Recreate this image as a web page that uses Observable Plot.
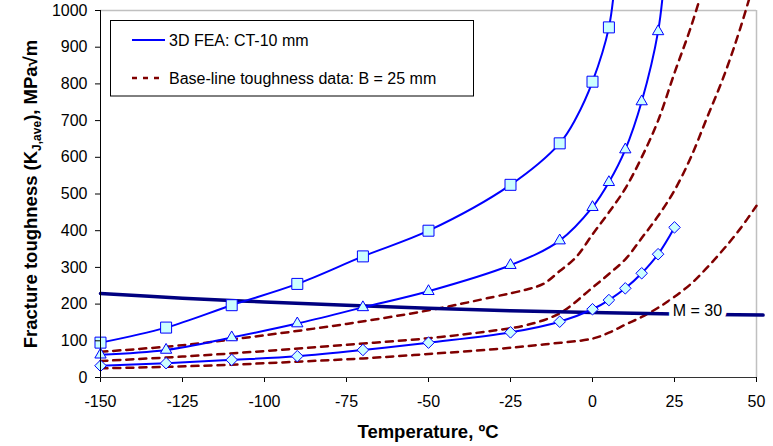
<!DOCTYPE html>
<html>
<head>
<meta charset="utf-8">
<script src="https://cdn.jsdelivr.net/npm/d3@7"></script>
<script src="https://cdn.jsdelivr.net/npm/@observablehq/plot@0.6"></script>
<style>
  body { margin: 0; background: #fff; }
  #chart svg { display: block; overflow: hidden; }
</style>
</head>
<body>
<div id="chart"></div>
<script>
// ---------- tick labels ----------
const xTicks = [-150, -125, -100, -75, -50, -25, 0, 25, 50];
const yTicks = [0, 100, 200, 300, 400, 500, 600, 700, 800, 900, 1000];

// ---------- 3D FEA: CT-10 mm (three curves, with markers) ----------
// square-marker curve (1 = marker drawn, 0 = line-only point)
const squareTemp   = [-150, -130, -110, -90, -70, -50, -25, -10, -5, 0, 5, 7];
const squareK      = [95, 136, 197, 255, 330, 400, 525, 638, 707, 806, 954, 1100];
const squareMarked = [1, 1, 1, 1, 1, 1, 1, 1, 0, 1, 1, 0];

// triangle-marker curve
const triangleTemp   = [-150, -130, -110, -90, -70, -50, -25, -10, 0, 5, 10, 15, 20, 22];
const triangleK      = [62, 75, 109, 147, 191, 235, 306, 373, 464, 532, 621, 752, 943, 1100];
const triangleMarked = [1, 1, 1, 1, 1, 1, 1, 1, 1, 1, 1, 1, 1, 0];

// diamond-marker curve
const diamondTemp   = [-150, -130, -110, -90, -70, -50, -25, -10, 0, 5, 10, 15, 20, 25];
const diamondK      = [32, 39, 48, 58, 75, 95, 123, 152, 186, 211, 243, 284, 336, 409];
const diamondMarked = [1, 1, 1, 1, 1, 1, 1, 1, 1, 1, 1, 1, 1, 1];

// ---------- Base-line toughness data: B = 25 mm (three dashed curves) ----------
const baseATemp = [-150, -125, -100, -75, -50, -30, -20, -15, -10, -5, 0, 5, 10, 15, 20, 25, 30, 35];
const baseAK    = [70, 88, 115, 146, 183, 220, 240, 255, 290, 328, 390, 450, 515, 600, 700, 830, 955, 1100];

const baseBTemp = [-150, -125, -100, -75, -50, -30, -20, -10, 0, 5, 10, 15, 20, 25, 30, 35, 40, 45, 50];
const baseBK    = [45, 57, 72, 89, 107, 128, 143, 175, 245, 282, 322, 380, 440, 510, 600, 710, 820, 950, 1100];

const baseCTemp = [-150, -130, -110, -90, -70, -50, -30, -15, 0, 5, 10, 15, 20, 25, 30, 35, 40, 45, 50];
const baseCK    = [25, 29, 35, 43, 52, 64, 77, 90, 106, 122, 144, 165, 190, 220, 255, 300, 350, 405, 468];

// ---------- M = 30 line ----------
const mTemp = [-150, -125, -100, -75, -50, -25, 0, 25, 52];
const mK    = [229, 216, 206, 197, 189, 182, 177, 173, 170];
const mLabelText = "M = 30";
const mLabelTemp = 32;
const mLabelK = 181;

// ---------- legend ----------
const legendLabels = ["3D FEA: CT-10 mm", "Base-line toughness data: B = 25 mm"];

// ---------- build tables ----------
const rows = (name, T, K, marked) =>
  T.map((t, i) => ({ series: name, T: t, K: K[i], marked: marked ? marked[i] : 1 }));

const feaRows = [
  ...rows("square", squareTemp, squareK, squareMarked),
  ...rows("triangle", triangleTemp, triangleK, triangleMarked),
  ...rows("diamond", diamondTemp, diamondK, diamondMarked)
];
const baseRows = [
  ...rows("A", baseATemp, baseAK),
  ...rows("B", baseBTemp, baseBK),
  ...rows("C", baseCTemp, baseCK)
];
const mRows = rows("M", mTemp, mK);

const markers = (s) => feaRows.filter(d => d.series === s && d.marked);

const BLUE = "#0000ff", MAROON = "#800000", NAVY = "#000080", FILL = "#ccffff";

const plot = Plot.plot({
  width: 773,
  height: 446,
  marginLeft: 100,
  marginRight: 17,
  marginTop: 10,
  marginBottom: 69,
  x: { domain: [-150, 50] },
  y: { domain: [0, 1000] },
  style: {
    fontFamily: "'Liberation Sans', Arial, sans-serif",
    fontSize: "16px",
    background: "white",
    color: "black",
    overflow: "hidden"
  },
  marks: [
    Plot.ruleY([1000], { stroke: "#c0c0c0", strokeWidth: 1.5 }),
    Plot.ruleX([50], { stroke: "#c0c0c0", strokeWidth: 1.5 }),
    Plot.line(baseRows, {
      x: "T", y: "K", z: "series", stroke: MAROON, strokeWidth: 2.5,
      strokeDasharray: "7,6", curve: "catmull-rom"
    }),
    Plot.line(mRows, { x: "T", y: "K", stroke: NAVY, strokeWidth: 3.5, curve: "catmull-rom" }),
    Plot.line(feaRows, { x: "T", y: "K", z: "series", stroke: BLUE, strokeWidth: 2, curve: "catmull-rom" }),
    Plot.dot(markers("square"), { x: "T", y: "K", symbol: "square", r: 6.2, fill: FILL, stroke: BLUE, strokeWidth: 1 }),
    Plot.dot(markers("triangle"), { x: "T", y: "K", symbol: "triangle", r: 4.2, fill: FILL, stroke: BLUE, strokeWidth: 1 }),
    Plot.dot(markers("diamond"), { x: "T", y: "K", symbol: "diamond2", r: 5.2, fill: FILL, stroke: BLUE, strokeWidth: 1 }),
    Plot.text([{ T: mLabelTemp, K: mLabelK, t: mLabelText }], {
      x: "T", y: "K", text: "t", fill: "black", stroke: "white", strokeWidth: 10,
      paintOrder: "stroke", fontSize: 16
    }),
    Plot.axisX({
      ticks: xTicks, tickSize: 5, tickPadding: 13, label: null, fontSize: 16,
      tickFormat: d => String(d)
    }),
    Plot.axisY({
      ticks: yTicks, tickSize: 5, tickPadding: 8, label: null, fontSize: 16,
      tickFormat: d => String(d)
    }),
    Plot.ruleY([0], { stroke: "#333" }),
    Plot.ruleX([-150], { stroke: "#000" })
  ]
});

document.getElementById("chart").appendChild(plot);

// ---------- axis titles (with subscript) ----------
const svg = d3.select(plot);
const font = "'Liberation Sans', Arial, sans-serif";

svg.append("text")
  .attr("x", 428).attr("y", 437.5)
  .attr("text-anchor", "middle")
  .attr("font-family", font).attr("font-size", 18.5).attr("font-weight", "bold")
  .attr("fill", "black")
  .text("Temperature, ºC");

const yl = svg.append("text")
  .attr("transform", "translate(37,194) rotate(-90)")
  .attr("text-anchor", "middle")
  .attr("font-family", font).attr("font-size", 18.5).attr("font-weight", "bold")
  .attr("fill", "black");
yl.append("tspan").text("Fracture toughness (K");
yl.append("tspan").attr("font-size", 12).attr("dy", 4).text("J,ave");
yl.append("tspan").attr("dy", -4).text("), MPa√m");

// ---------- legend ----------
const lg = svg.append("g").attr("text-anchor", "start");
lg.append("rect").attr("x", 110.5).attr("y", 20.5).attr("width", 363).attr("height", 75.5)
  .attr("fill", "white").attr("stroke", "black").attr("stroke-width", 1);
const legendStyles = [
  { stroke: BLUE, width: 2, dash: null, y: 40 },
  { stroke: MAROON, width: 2.5, dash: "5,6", y: 78 }
];
legendLabels.forEach((label, i) => {
  const s = legendStyles[i];
  lg.append("line").attr("x1", 132).attr("x2", 165).attr("y1", s.y).attr("y2", s.y)
    .attr("stroke", s.stroke).attr("stroke-width", s.width)
    .attr("stroke-dasharray", s.dash);
  lg.append("text").attr("x", 169).attr("y", s.y + 5.7)
    .attr("text-anchor", "start")
    .attr("font-family", font).attr("font-size", 16).attr("fill", "black")
    .text(label);
});
</script>
</body>
</html>
